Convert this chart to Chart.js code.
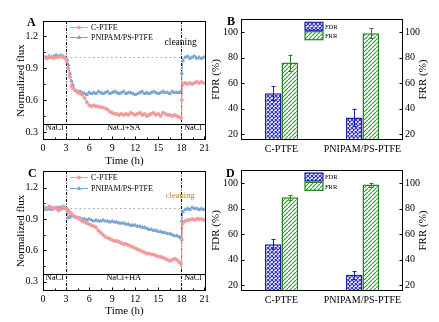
<!DOCTYPE html>
<html lang="en">
<head>
  <meta charset="UTF-8">
  <title>Normalized flux, FDR and FRR</title>
  <script src="https://cdn.jsdelivr.net/npm/chart.js"></script>
  <style>
    body { margin: 0; background: #fff; }
    .wrap { position: relative; width: 439px; height: 322px; overflow: hidden; }
    canvas { position: absolute; }
  </style>
</head>
<body>
<div class="wrap">
  <canvas id="chartA" width="220" height="170" style="left:0;top:0"></canvas>
  <canvas id="chartB" width="239" height="170" style="left:200px;top:0"></canvas>
  <canvas id="chartC" width="220" height="162" style="left:0;top:160px"></canvas>
  <canvas id="chartD" width="239" height="162" style="left:200px;top:160px"></canvas>
</div>

<script>
  // sampling times (h), shared by the four flux curves
  const hours = [0.2,0.5,0.8,1.1,1.4,1.7,2.0,2.3,2.6,2.9,
    3.1,3.3,3.5,3.7,3.9,4.2,4.5,4.8,5.1,5.4,
    5.7,6.0,6.3,6.6,6.9,7.2,7.5,7.8,8.1,8.4,
    8.7,9.0,9.3,9.6,9.9,10.2,10.5,10.8,11.1,11.4,
    11.7,12.0,12.3,12.6,12.9,13.2,13.5,13.8,14.1,14.4,
    14.7,15.0,15.3,15.6,15.9,16.2,16.5,16.8,17.1,17.4,
    17.7,17.95,18.05,18.2,18.5,18.8,19.1,19.4,19.7,20.0,
    20.3,20.6,20.9];

  // panel A (NaCl + SA)
  const cptfeA = [1.00,0.99,1.00,1.00,0.99,1.00,1.00,1.01,1.00,0.99,
    0.96,0.90,0.82,0.73,0.71,0.69,0.67,0.66,0.65,0.62,
    0.58,0.55,0.54,0.55,0.54,0.54,0.53,0.53,0.52,0.51,
    0.49,0.48,0.47,0.47,0.46,0.47,0.46,0.47,0.46,0.48,
    0.47,0.46,0.47,0.48,0.46,0.47,0.45,0.46,0.47,0.48,
    0.46,0.47,0.45,0.48,0.47,0.46,0.46,0.45,0.46,0.45,
    0.44,0.43,0.60,0.75,0.76,0.75,0.76,0.75,0.76,0.77,
    0.76,0.77,0.76];
  const pnipamA = [1.00,1.00,1.01,1.00,1.01,1.02,1.01,1.02,1.01,1.00,
    0.98,0.93,0.85,0.78,0.74,0.69,0.68,0.68,0.67,0.66,
    0.65,0.67,0.66,0.67,0.66,0.68,0.67,0.66,0.67,0.68,
    0.66,0.67,0.68,0.67,0.66,0.67,0.68,0.66,0.67,0.67,
    0.66,0.65,0.66,0.67,0.68,0.66,0.67,0.66,0.67,0.68,
    0.67,0.66,0.67,0.68,0.67,0.67,0.66,0.68,0.67,0.67,
    0.67,0.68,0.85,0.97,1.00,1.01,0.99,1.00,1.01,0.99,
    1.00,0.99,1.00];

  // panel C (NaCl + HA)
  const cptfeC = [1.01,1.00,1.02,1.01,1.00,1.01,0.98,0.99,1.02,1.00,
    1.00,0.98,0.96,0.95,0.93,0.92,0.91,0.90,0.88,0.87,
    0.86,0.85,0.84,0.83,0.82,0.79,0.77,0.75,0.73,0.72,
    0.71,0.70,0.69,0.69,0.68,0.67,0.66,0.66,0.65,0.64,
    0.63,0.62,0.61,0.60,0.59,0.58,0.57,0.57,0.56,0.56,
    0.55,0.54,0.54,0.53,0.52,0.51,0.50,0.51,0.52,0.51,
    0.49,0.47,0.70,0.86,0.88,0.89,0.89,0.90,0.89,0.90,
    0.90,0.90,0.89];
  const pnipamC = [0.99,0.99,1.00,0.99,1.00,1.00,1.01,1.01,1.00,1.01,
    1.00,0.91,0.92,0.94,0.93,0.92,0.91,0.91,0.90,0.90,
    0.89,0.90,0.89,0.88,0.89,0.88,0.88,0.89,0.88,0.88,
    0.87,0.88,0.87,0.87,0.86,0.86,0.86,0.85,0.85,0.84,
    0.84,0.84,0.83,0.83,0.82,0.82,0.81,0.80,0.80,0.79,
    0.79,0.78,0.78,0.77,0.77,0.76,0.76,0.75,0.74,0.74,
    0.73,0.72,0.88,0.97,0.99,1.00,0.99,1.01,1.00,1.00,
    0.99,1.00,0.99];

  const timeTicks = [0, 3, 6, 9, 12, 15, 18, 21];
  const fluxTicks = [0.3, 0.6, 0.9, 1.2];
  const stageEdges = [3, 18];
  const stageCenters = [1.5, 10.5, 19.5];
  const stageLine = 0.375;
  const stageTextY = 0.335;
  const refFlux = 1.0;
  const stagesA = ['NaCl', 'NaCl+SA', 'NaCl'];
  const stagesC = ['NaCl', 'NaCl+HA', 'NaCl'];

  // panels B and D
  const membranes = ['C-PTFE', 'PNIPAM/PS-PTFE'];
  const fdrB = [52, 33], fdrErrB = [5.5, 7];
  const frrB = [76, 99], frrErrB = [6.3, 4];
  const fdrD = [52, 28], fdrErrD = [4, 3];
  const frrD = [89, 99], frrErrD = [2, 1.5];
  const pctTicks = [20, 40, 60, 80, 100];

  const SERIF = '"Liberation Serif", "Times New Roman", serif';
  Chart.defaults.font.family = SERIF;
  Chart.defaults.color = '#000';
  Chart.defaults.animation = false;

  const PINK = '#f39b9b', BLUE = '#78a6d3';

  function hatch(color, cross) {
    const c = document.createElement('canvas');
    c.width = c.height = 4;
    const g = c.getContext('2d');
    g.fillStyle = '#fff';
    g.fillRect(0, 0, 4, 4);
    g.strokeStyle = color;
    g.lineWidth = 1.2;
    g.beginPath();
    g.moveTo(-1, 5); g.lineTo(5, -1);
    if (cross) { g.moveTo(-1, -1); g.lineTo(5, 5); }
    g.stroke();
    return g.createPattern(c, 'repeat');
  }
  const fdrFill = hatch('#3434c4', true);
  const frrFill = hatch('#3c9e3c', false);

  // frame around plot, inward ticks, panel letter
  const framePlugin = {
    id: 'frame',
    afterDraw(chart, args, o) {
      const { ctx, chartArea: a } = chart;
      ctx.save();
      ctx.strokeStyle = '#000';
      ctx.lineWidth = 1;
      const L = Math.round(a.left) + 0.5, T = Math.round(a.top) + 0.5;
      const R = Math.round(a.right) - 0.5, B = Math.round(a.bottom) - 0.5;
      ctx.strokeRect(L, T, R - L, B - T);
      ctx.beginPath();
      (o.tickScales || []).forEach(id => {
        const s = chart.scales[id];
        const vals = s.ticks.map(t => t.value);
        const draw = (v, len) => {
          const p = Math.round(s.getPixelForValue(v)) + 0.5;
          if (s.isHorizontal()) { ctx.moveTo(p, B); ctx.lineTo(p, B - len); }
          else if (s.position === 'right') { ctx.moveTo(R, p); ctx.lineTo(R - len, p); }
          else { ctx.moveTo(L, p); ctx.lineTo(L + len, p); }
        };
        vals.forEach(v => draw(v, 3));
        if (o.minor) {
          for (let i = 0; i < vals.length - 1; i++) draw((vals[i] + vals[i + 1]) / 2, 2);
        }
      });
      ctx.stroke();
      ctx.fillStyle = '#000';
      ctx.font = 'bold 12px ' + SERIF;
      ctx.textAlign = 'left';
      ctx.textBaseline = 'alphabetic';
      ctx.fillText(o.letter, o.lx, o.ly);
      if (o.rightTitle) {
        ctx.font = '11px ' + SERIF;
        ctx.textAlign = 'center';
        ctx.textBaseline = 'middle';
        ctx.translate(a.right + o.rightTitleDx, (a.top + a.bottom) / 2);
        ctx.rotate(-Math.PI / 2);
        ctx.fillText(o.rightTitle, 0, 0);
      }
      ctx.restore();
    }
  };

  // stage separators, NaCl labels, reference line, cleaning note
  const stagePlugin = {
    id: 'stages',
    beforeDatasetsDraw(chart, args, o) {
      const { ctx, chartArea: a, scales: { x, y } } = chart;
      ctx.save();
      ctx.lineWidth = 1;
      ctx.strokeStyle = '#a0a0a0';
      ctx.setLineDash([1.5, 3]);
      const yr = Math.round(y.getPixelForValue(refFlux)) + 0.5;
      ctx.beginPath();
      ctx.moveTo(x.getPixelForValue(stageEdges[0]), yr);
      ctx.lineTo(x.getPixelForValue(stageEdges[1]), yr);
      ctx.stroke();
      ctx.strokeStyle = '#000';
      ctx.setLineDash([3, 1.5, 1, 1.5]);
      ctx.beginPath();
      stageEdges.forEach(e => {
        const px = Math.round(x.getPixelForValue(e)) + 0.5;
        ctx.moveTo(px, a.top); ctx.lineTo(px, a.bottom);
      });
      ctx.stroke();
      ctx.setLineDash([]);
      const ys = Math.round(y.getPixelForValue(stageLine)) + 0.5;
      ctx.beginPath();
      ctx.moveTo(a.left, ys); ctx.lineTo(a.right, ys);
      ctx.stroke();
      ctx.fillStyle = '#000';
      ctx.font = '8.5px ' + SERIF;
      ctx.textAlign = 'center';
      ctx.textBaseline = 'middle';
      o.labels.forEach((s, i) => {
        ctx.fillText(s, x.getPixelForValue(stageCenters[i]), y.getPixelForValue(stageTextY));
      });
      ctx.fillStyle = o.cleanColor;
      ctx.font = o.cleanFont + ' ' + SERIF;
      ctx.fillText('cleaning', x.getPixelForValue(o.cleanAt[0]), y.getPixelForValue(o.cleanAt[1]));
      ctx.restore();
    }
  };

  const lineLegend = {
    id: 'lineLegend',
    afterDatasetsDraw(chart, args, o) {
      const { ctx, chartArea: a } = chart;
      ctx.save();
      ctx.font = '8px ' + SERIF;
      ctx.textAlign = 'left';
      ctx.textBaseline = 'middle';
      chart.data.datasets.forEach((ds, i) => {
        const x0 = a.left + o.x0, yy = Math.round(a.top + o.y0 + i * o.dy) + 0.5;
        ctx.strokeStyle = ds.borderColor;
        ctx.fillStyle = ds.borderColor;
        ctx.lineWidth = 1;
        ctx.beginPath();
        ctx.moveTo(x0, yy); ctx.lineTo(x0 + 18, yy);
        ctx.stroke();
        Chart.helpers.drawPoint(ctx, { pointStyle: ds.pointStyle, radius: ds.pointRadius, borderWidth: 1, rotation: 0 }, x0 + 9, yy);
        ctx.fillStyle = '#000';
        ctx.fillText(ds.label, x0 + 21, yy);
      });
      ctx.restore();
    }
  };

  const barLegend = {
    id: 'barLegend',
    afterDatasetsDraw(chart, args, o) {
      const { ctx, chartArea: a } = chart;
      ctx.save();
      ctx.font = '6.5px ' + SERIF;
      ctx.textAlign = 'left';
      ctx.textBaseline = 'middle';
      chart.data.datasets.forEach((ds, i) => {
        const x0 = a.left + o.x0, y0 = a.top + o.y0 + i * o.dy;
        ctx.fillStyle = ds.backgroundColor;
        ctx.fillRect(x0, y0, 18, 8);
        ctx.strokeStyle = ds.borderColor;
        ctx.lineWidth = 1.2;
        ctx.strokeRect(x0, y0, 18, 8);
        ctx.fillStyle = '#000';
        ctx.fillText(ds.label, x0 + 20, y0 + 4.5);
      });
      ctx.restore();
    }
  };

  const errorBars = {
    id: 'errorBars',
    afterDatasetsDraw(chart) {
      const { ctx } = chart;
      ctx.save();
      ctx.lineWidth = 1;
      chart.data.datasets.forEach((ds, i) => {
        const meta = chart.getDatasetMeta(i);
        const sc = chart.scales[ds.yAxisID];
        ctx.strokeStyle = ds.borderColor;
        ctx.beginPath();
        meta.data.forEach((bar, j) => {
          const x = Math.round(bar.x) + 0.5;
          const hi = sc.getPixelForValue(ds.data[j] + ds.errors[j]);
          const lo = sc.getPixelForValue(ds.data[j] - ds.errors[j]);
          ctx.moveTo(x, hi); ctx.lineTo(x, lo);
          ctx.moveTo(x - 2, Math.round(hi) + 0.5); ctx.lineTo(x + 2, Math.round(hi) + 0.5);
          ctx.moveTo(x - 2, Math.round(lo) + 0.5); ctx.lineTo(x + 2, Math.round(lo) + 0.5);
        });
        ctx.stroke();
      });
      ctx.restore();
    }
  };

  const pts = arr => hours.map((h, i) => ({ x: h, y: arr[i] }));
  const noGrid = { display: false, drawTicks: false, tickLength: 0 };

  function fluxChart(id, pink, blue, opts) {
    return new Chart(document.getElementById(id), {
      type: 'line',
      data: {
        datasets: [
          { label: 'C-PTFE', data: pts(pink), borderColor: PINK, backgroundColor: PINK,
            pointStyle: 'circle', pointRadius: 1.5, pointBorderWidth: 1, borderWidth: 1 },
          { label: 'PNIPAM/PS-PTFE', data: pts(blue), borderColor: BLUE, backgroundColor: BLUE,
            pointStyle: 'triangle', pointRadius: 1.8, pointBorderWidth: 1, borderWidth: 1 }
        ]
      },
      options: {
        responsive: false,
        layout: { padding: { top: opts.padTop, right: 14, left: 0, bottom: 0 } },
        plugins: {
          legend: { display: false },
          tooltip: { enabled: false },
          frame: { letter: opts.letter, lx: opts.lx, ly: opts.ly, tickScales: ['x', 'y'], minor: true },
          stages: { labels: opts.stages, cleanAt: opts.cleanAt, cleanColor: opts.cleanColor, cleanFont: opts.cleanFont },
          lineLegend: { x0: 27, y0: opts.legY, dy: 10.6 }
        },
        scales: {
          x: {
            type: 'linear', min: 0, max: 21.2,
            afterBuildTicks: s => { s.ticks = timeTicks.map(v => ({ value: v })); },
            afterFit: s => { s.height = opts.xHeight; },
            grid: noGrid, border: { display: false },
            ticks: { font: { size: 10 }, padding: 2, maxRotation: 0 },
            title: { display: true, text: 'Time (h)', font: { size: 11 }, padding: { top: 0, bottom: opts.xTitlePad } }
          },
          y: {
            min: opts.yMin, max: opts.yMax,
            afterBuildTicks: s => { s.ticks = fluxTicks.map(v => ({ value: v })); },
            afterFit: s => { s.width = 43; },
            grid: noGrid, border: { display: false },
            ticks: { font: { size: 10 }, padding: 5, callback: v => v.toFixed(1) },
            title: { display: true, text: 'Normalized flux', font: { size: 11 }, padding: { top: 15, bottom: 0 } }
          }
        }
      },
      plugins: [stagePlugin, lineLegend, framePlugin]
    });
  }

  function barChart(id, fdr, fdrErr, frr, frrErr, opts) {
    const pctAxis = (pos, w, pad) => ({
      position: pos, min: 15.3, max: opts.yMax,
      afterBuildTicks: s => { s.ticks = pctTicks.map(v => ({ value: v })); },
      afterFit: s => { s.width = w; },
      grid: noGrid, border: { display: false },
      ticks: { font: { size: 10 }, padding: pad }
    });
    const left = pctAxis('left', 41, 3);
    left.title = { display: true, text: 'FDR (%)', font: { size: 11 }, padding: { top: 9.4, bottom: 0 } };
    return new Chart(document.getElementById(id), {
      type: 'bar',
      data: {
        labels: membranes,
        datasets: [
          { label: 'FDR', data: fdr, errors: fdrErr, yAxisID: 'y', backgroundColor: fdrFill,
            borderColor: '#2020b0', borderWidth: 1.5, categoryPercentage: 0.41, barPercentage: 1 },
          { label: 'FRR', data: frr, errors: frrErr, yAxisID: 'y1', backgroundColor: frrFill,
            borderColor: '#1d8a1d', borderWidth: 1.5, categoryPercentage: 0.41, barPercentage: 1 }
        ]
      },
      options: {
        responsive: false,
        layout: { padding: { top: opts.padTop, right: 0, left: 0, bottom: 0 } },
        plugins: {
          legend: { display: false },
          tooltip: { enabled: false },
          frame: { letter: opts.letter, lx: opts.lx, ly: opts.ly, tickScales: ['y', 'y1'],
                   rightTitle: 'FRR (%)', rightTitleDx: 20.3 },
          barLegend: { x0: 64, y0: opts.legY, dy: 9.4 }
        },
        scales: {
          x: {
            afterFit: s => { s.height = opts.xHeight; },
            grid: noGrid, border: { display: false },
            ticks: { font: { size: 10 }, padding: 3, maxRotation: 0 }
          },
          y: left,
          y1: pctAxis('right', 36, 2)
        }
      },
      plugins: [errorBars, barLegend, framePlugin]
    });
  }

  fluxChart('chartA', cptfeA, pnipamA, {
    letter: 'A', lx: 27, ly: 26, padTop: 21, xHeight: 30, xTitlePad: 2.7,
    yMin: 0.225, yMax: 1.34, stages: stagesA, legY: 5.7,
    cleanAt: [17.9, 1.137], cleanColor: '#000', cleanFont: '9.5px'
  });
  fluxChart('chartC', cptfeC, pnipamC, {
    letter: 'C', lx: 28, ly: 17, padTop: 10, xHeight: 31, xTitlePad: 4.7,
    yMin: 0.212, yMax: 1.358, stages: stagesC, legY: 6,
    cleanAt: [17.85, 1.121], cleanColor: '#b8862e', cleanFont: '8.5px'
  });
  barChart('chartB', fdrB, fdrErrB, frrB, frrErrB, {
    letter: 'B', lx: 27, ly: 25, padTop: 19, xHeight: 30, yMax: 110.2, legY: 3.3
  });
  barChart('chartD', fdrD, fdrErrD, frrD, frrErrD, {
    letter: 'D', lx: 26, ly: 17, padTop: 10, xHeight: 31, yMax: 110.5, legY: 3
  });
</script>
</body>
</html>
